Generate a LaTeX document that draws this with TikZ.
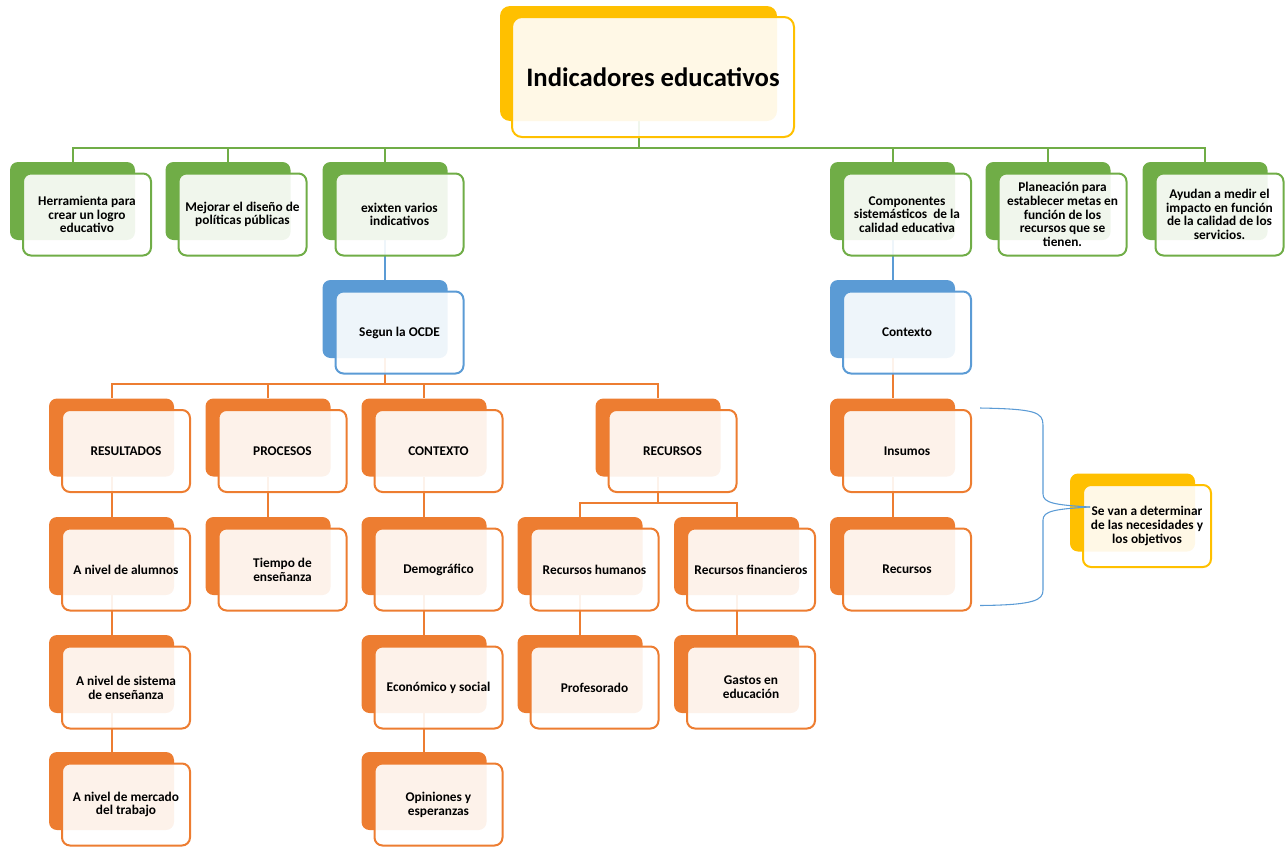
\documentclass[tikz,border=0pt]{standalone}
\usepackage{fontspec}
\setmainfont{Carlito}
\usetikzlibrary{positioning,calc,backgrounds}

\definecolor{amarillo}{HTML}{FFC000}
\definecolor{verde}{HTML}{70AD47}
\definecolor{azul}{HTML}{5B9BD5}
\definecolor{naranja}{HTML}{ED7D31}

\tikzset{
  fondo/.style={rectangle, rounded corners=6pt, minimum width=93.75pt, minimum height=58.5pt, inner sep=0pt},
  frente/.style={rectangle, rounded corners=6pt, line width=1.5pt, fill=white, fill opacity=0.9, text opacity=1,
    minimum width=96pt, minimum height=61.5pt, inner sep=1pt, align=center,
    font=\bfseries\fontsize{10}{10.3}\selectfont},
  linea/.style={line width=1.5pt, draw=#1},
  llave/.style={draw=azul, line width=0.8pt},
}

% caja doble: fondo de color + frente claro desplazado
\newcommand{\caja}[4]{%
  \node[fondo, fill=#2] (#1) at (#3) {};
  \node[frente, draw=#2] (#1-f) at ([shift={(14.5,13.5)}]#1.center) {#4};
}

\begin{document}
\begin{tikzpicture}[x=0.75pt, y=-0.75pt]
    \useasboundingbox (0,0) rectangle (1288,846);

    % titulo
    \node[fondo, fill=amarillo, minimum width=207.75pt, minimum height=86.25pt, rounded corners=7.5pt] (titulo) at (638.5,63.5) {};
    \node[frente, draw=amarillo, minimum width=211.5pt, minimum height=90pt, rounded corners=7.5pt,
          font=\bfseries\fontsize{20}{22}\selectfont] (titulo-f) at ([shift={(14.5,13.5)}]titulo.center) {Indicadores educativos};

    % primer nivel
    \caja{herr}{verde}{72.5,201}{Herramienta para\\crear un logro\\educativo}
    \caja{mejor}{verde}{228,201}{Mejorar el diseño de\\políticas públicas}
    \caja{exix}{verde}{385,201}{exixten varios\\indicativos}
    \caja{compo}{verde}{892.5,201}{Componentes\\sistemásticos~ de la\\calidad educativa}
    \caja{plan}{verde}{1048,201}{Planeación para\\establecer metas en\\función de los\\recursos que se\\tienen.}
    \caja{ayud}{verde}{1205,201}{Ayudan a medir el\\impacto en función\\de la calidad de los\\servicios.}

    \caja{ocde}{azul}{385,319}{Segun la OCDE}
    \caja{ctx}{azul}{892.5,319}{Contexto}

    \caja{resul}{naranja}{111.5,437.5}{RESULTADOS}
    \caja{proc}{naranja}{268,437.5}{PROCESOS}
    \caja{cont}{naranja}{424,437.5}{CONTEXTO}
    \caja{recu}{naranja}{658,437.5}{RECURSOS}
    \caja{insu}{naranja}{892.5,437.5}{Insumos}

    \caja{alum}{naranja}{111.5,556}{A nivel de alumnos}
    \caja{tiempo}{naranja}{268,556}{Tiempo de\\enseñanza}
    \caja{demo}{naranja}{424,556}{Demográfico}
    \caja{rhum}{naranja}{580,556}{Recursos humanos}
    \caja{rfin}{naranja}{736.5,556}{Recursos financieros}
    \caja{recr}{naranja}{892.5,556}{Recursos}

    \caja{sist}{naranja}{111.5,674}{A nivel de sistema\\de enseñanza}
    \caja{econ}{naranja}{424,674}{Económico y social}
    \caja{prof}{naranja}{580,674}{Profesorado}
    \caja{gast}{naranja}{736.5,674}{Gastos en\\educación}

    \caja{merc}{naranja}{111.5,791}{A nivel de mercado\\del trabajo}
    \caja{opin}{naranja}{424,791}{Opiniones y\\esperanzas}

    \caja{seva}{amarillo}{1132.5,512.5}{Se van a determinar\\de las necesidades y\\los objetivos}

    % conectores
    \begin{pgfonlayer}{background}
    \foreach \n in {herr,mejor,exix,compo,plan,ayud}
        \draw[linea=verde] (titulo.south) -- ++(0,27) -| (\n.north);
    \draw[linea=azul] (exix.south) -- (ocde.north);
    \draw[linea=azul] (compo.south) -- (ctx.north);
    \foreach \n in {resul,proc,cont,recu}
        \draw[linea=naranja] (ocde.south) -- ++(0,26) -| (\n.north);
    \foreach \n in {rhum,rfin}
        \draw[linea=naranja] (recu.south) -- ++(0,26) -| (\n.north);
    \foreach \a/\b in {ctx/insu, insu/recr, resul/alum, alum/sist, sist/merc, proc/tiempo,
                       cont/demo, demo/econ, econ/opin, rhum/prof, rfin/gast}
        \draw[linea=naranja] (\a.south) -- (\b.north);
    \end{pgfonlayer}

    % llaves hacia la nota
    \coordinate (junta) at (1090,507);
    \draw[llave] ($(insu-f.north east)+(8,-1)$) .. controls (1035,409) and (1043,412) .. (1043,425)
        -- (1043,494) .. controls (1043,503) and (1055,505) .. (junta);
    \draw[llave] ($(recr-f.south east)+(8,-6)$) .. controls (1035,605) and (1043,600) .. (1043,590)
        -- (1043,520) .. controls (1043,511) and (1055,509) .. (junta);
\end{tikzpicture}
\end{document}
